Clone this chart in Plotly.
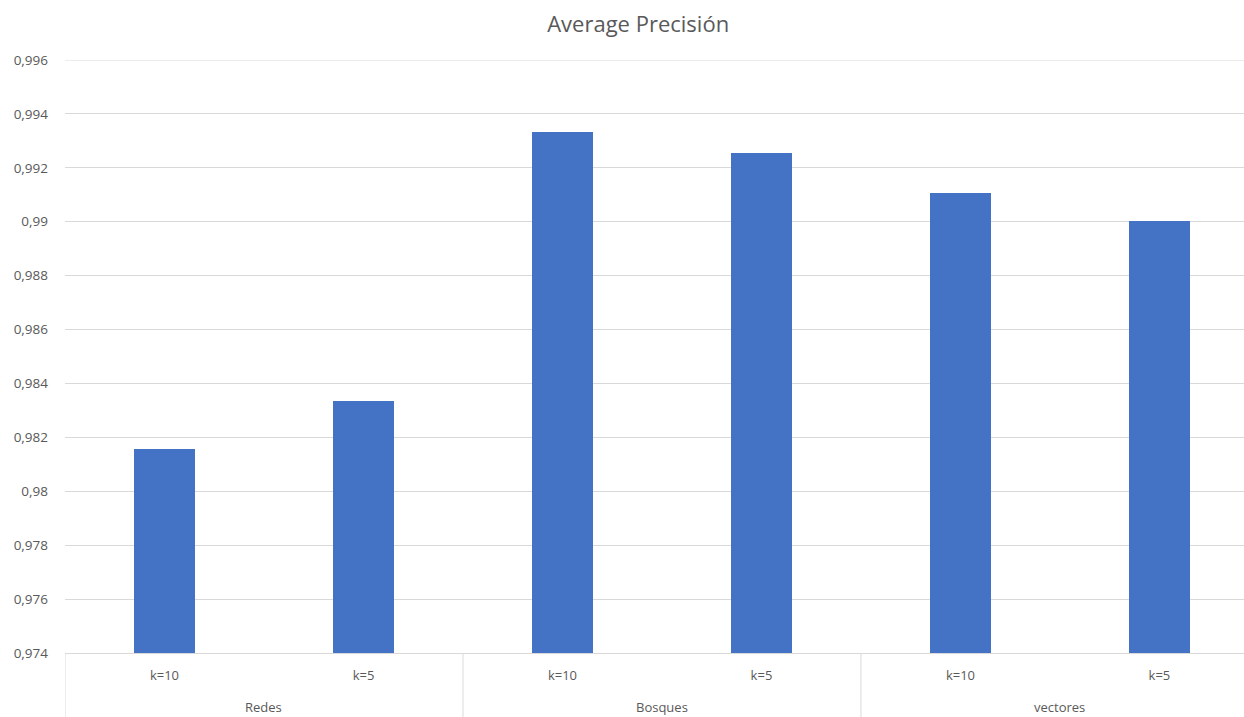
import plotly.graph_objects as go

# Average precision per model family and k
groups = ["Redes", "Redes", "Bosques", "Bosques", "vectores", "vectores"]
k_labels = ["k=10", "k=5", "k=10", "k=5", "k=10", "k=5"]
precision = [0.98156, 0.98334, 0.99332, 0.99254, 0.99108, 0.99004]

group_names = ["Redes", "Bosques", "vectores"]
y_min, y_max, y_step = 0.974, 0.996, 0.002

TEXT = "#595959"
GRID = "#d9d9d9"
FONT = "Open Sans"

idx = list(range(len(precision)))

fig = go.Figure(
    go.Bar(
        x=idx,
        y=precision,
        width=0.31,
        marker=dict(color="#4472C4", line=dict(width=0)),
        hovertext=[f"{g} {k}" for g, k in zip(groups, k_labels)],
    )
)

# Group dividers and group labels under the k tick labels
shapes = []
annotations = []
below = -64 / 593
for gi, name in enumerate(group_names):
    start = gi * 2 - 0.5
    shapes.append(dict(type="line", xref="x", yref="paper", x0=start, x1=start,
                       y0=0, y1=below, line=dict(color=GRID, width=1)))
    annotations.append(dict(text=name, xref="x", yref="paper", x=start + 1,
                            y=-54 / 593, showarrow=False, yanchor="middle",
                            font=dict(family=FONT, size=13, color=TEXT)))

# gridline at the top of the value range
shapes.append(dict(type="line", xref="paper", yref="y", x0=0, x1=1,
                   y0=y_max, y1=y_max, line=dict(color=GRID, width=1), layer="below"))

fig.update_layout(
    width=1244,
    height=717,
    margin=dict(l=65, r=0, t=60, b=64),
    paper_bgcolor="white",
    plot_bgcolor="white",
    separators=",.",
    showlegend=False,
    title=dict(text="Average Precisión", xref="container", x=0.513, xanchor="center",
               y=1 - 24 / 717, yanchor="middle",
               font=dict(family=FONT, size=22, color=TEXT)),
    xaxis=dict(
        range=[-0.5, 5.425],
        tickvals=idx,
        ticktext=k_labels,
        showgrid=False,
        zeroline=False,
        showline=True,
        linecolor=GRID,
        linewidth=1,
        ticks="",
        ticklabelstandoff=10,
        tickfont=dict(family=FONT, size=13, color=TEXT),
    ),
    yaxis=dict(
        range=[y_min, y_max],
        dtick=y_step,
        tick0=y_min,
        tickformat=".3~f",
        showgrid=True,
        gridcolor=GRID,
        gridwidth=1,
        zeroline=False,
        showline=False,
        ticks="",
        ticklabelstandoff=16,
        tickfont=dict(family=FONT, size=13.5, color=TEXT),
    ),
    shapes=shapes,
    annotations=annotations,
    bargap=0,
)

fig.write_html("out.html")
